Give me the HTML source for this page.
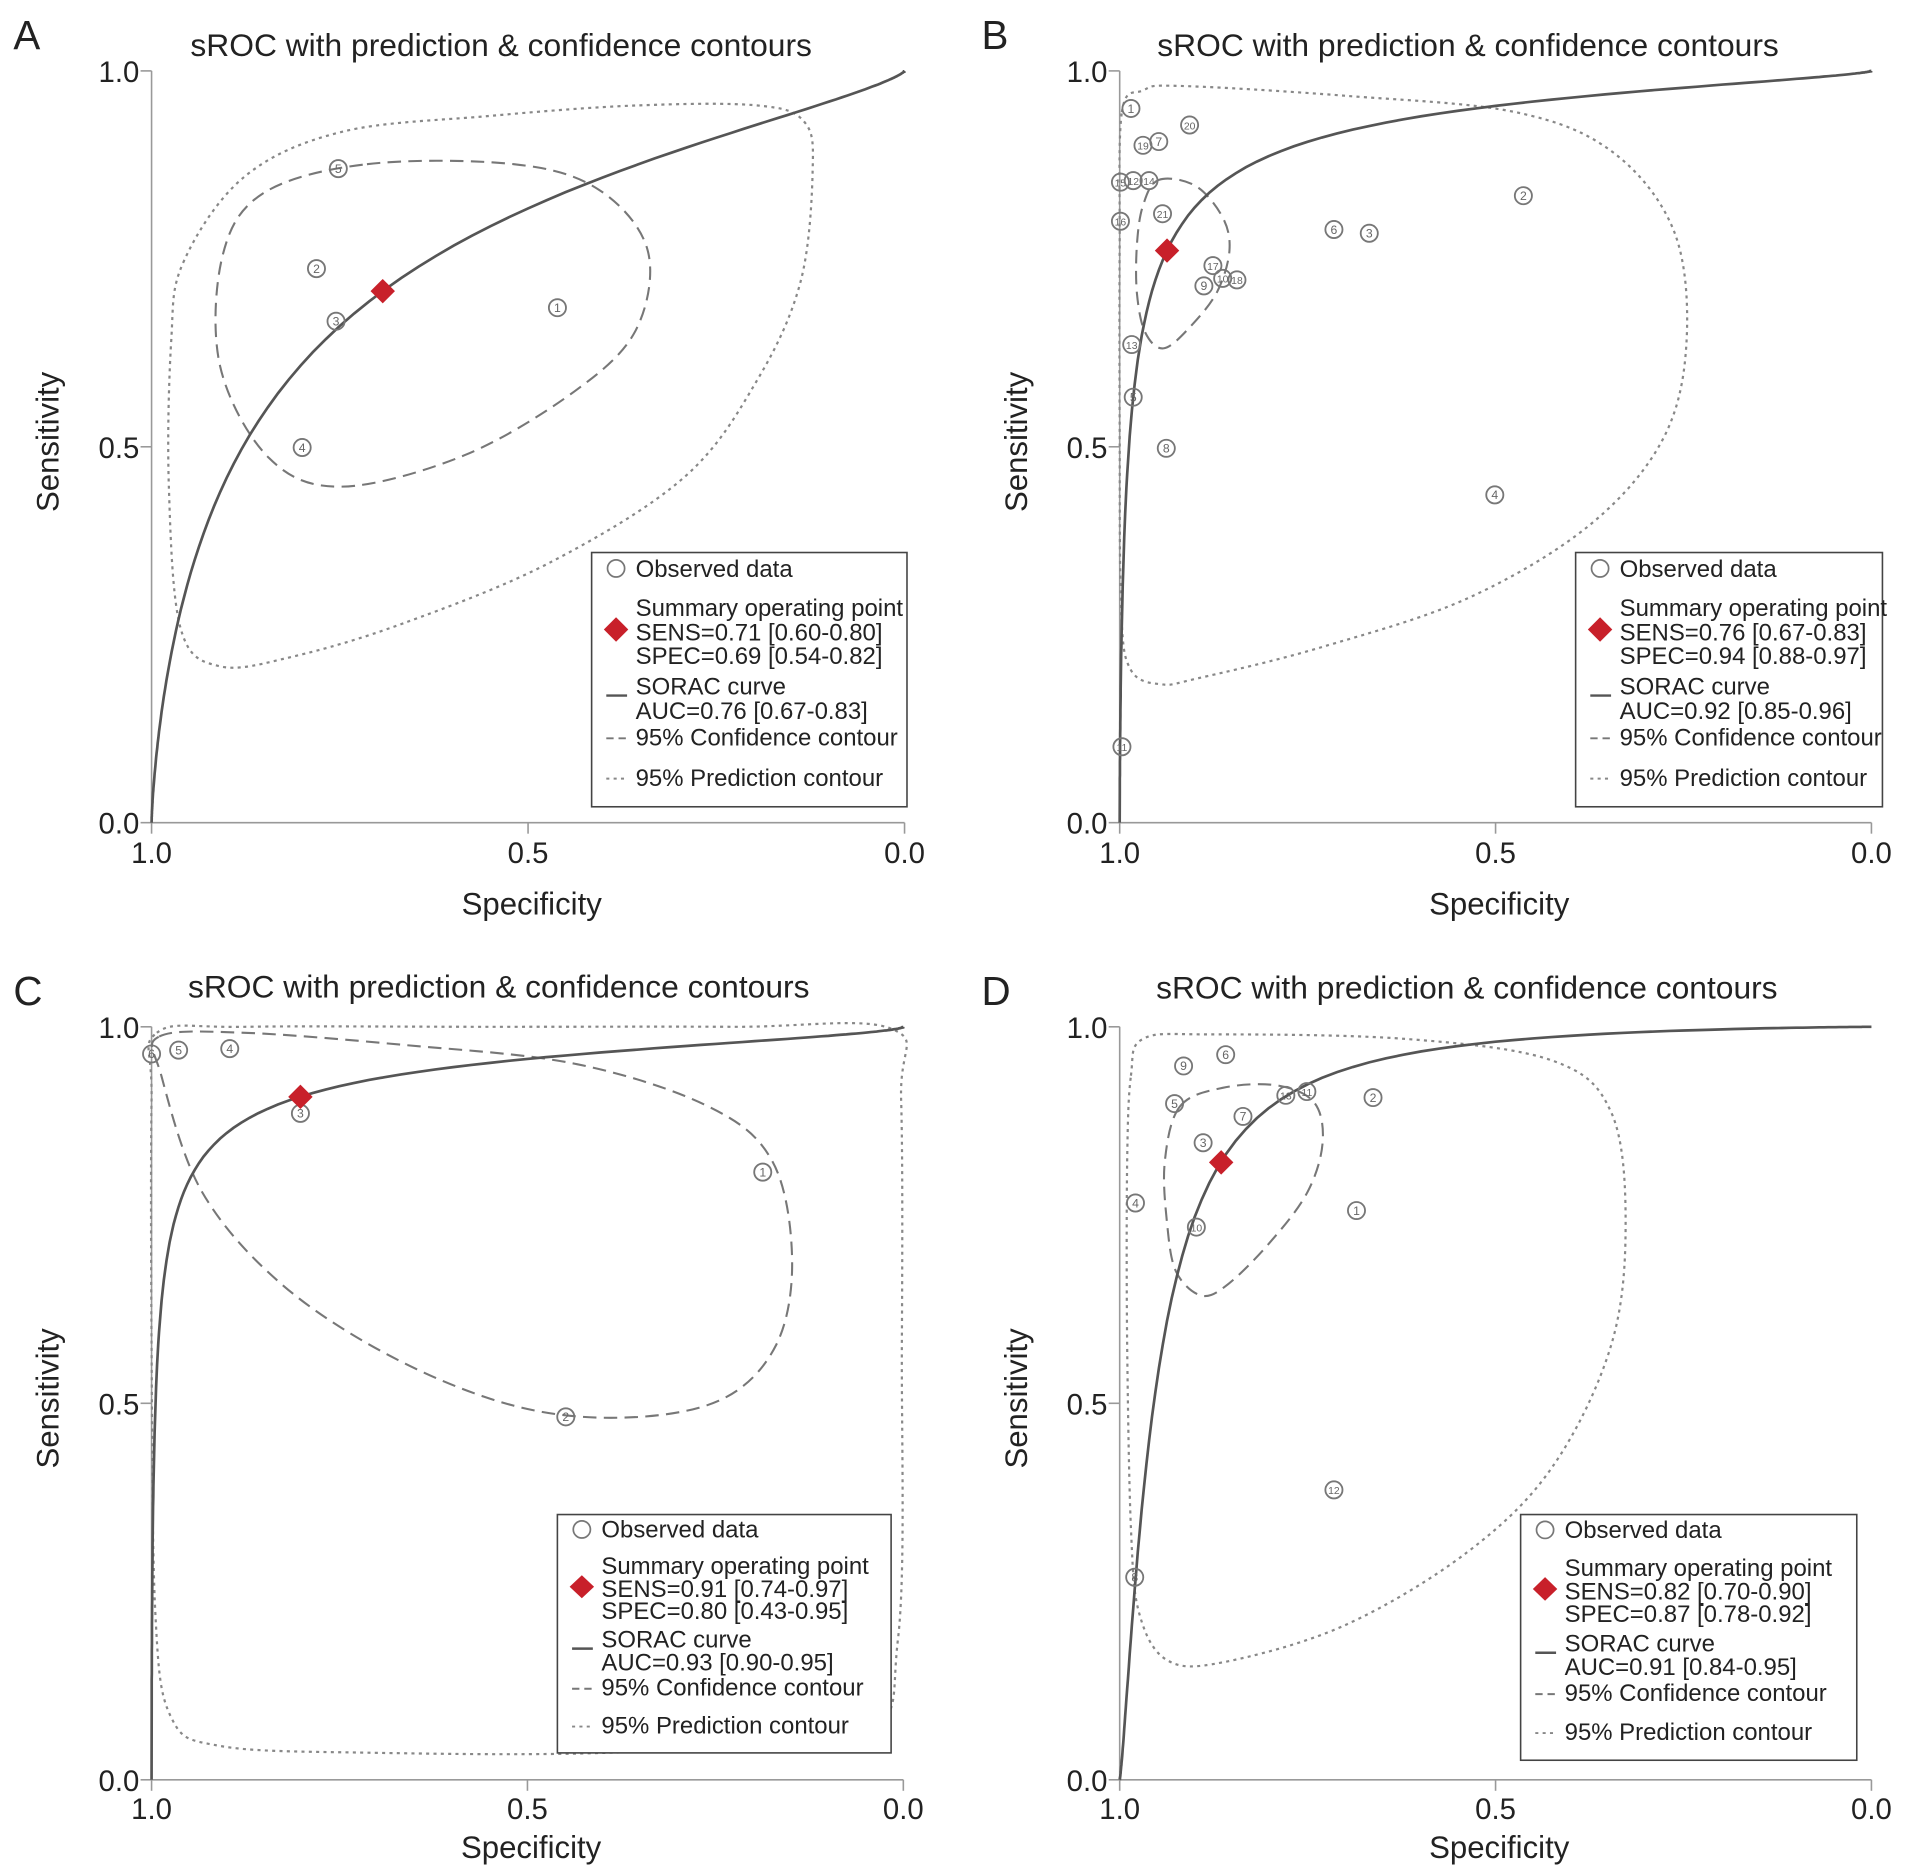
<!DOCTYPE html>
<html><head><meta charset="utf-8">
<style>
html,body{margin:0;padding:0;background:#fff;}
svg{display:block;}
text{font-family:"Liberation Sans",Arial,sans-serif;}
</style></head>
<body>
<svg id="chart" width="1913" height="1876" viewBox="0 0 1565 1534.7" preserveAspectRatio="none" xmlns="http://www.w3.org/2000/svg"></svg>
<script>
// ---- data (specificity, sensitivity) ----
const panelLabels = ["A","B","C","D"];
const ptsA_spec = [0.461,0.781,0.755,0.800,0.752];
const ptsA_sens = [0.685,0.737,0.667,0.499,0.870];
const ptsA_lab = ["1","2","3","4","5"];
const sumA = [0.693,0.707];
const curveA = [1.497,0.756];
const confA_spec = [.714,.519,.406,.341,.357,.438,.584,.747,.844,.909,.906,.852];
const confA_sens = [.876,.876,.842,.761,.655,.574,.489,.447,.485,.607,.753,.837];
const predA_spec = [.958,.877,.747,.552,.357,.195,.133,.122,.138,.195,.292,.471,.666,.812,.909,.961,.977,.974];
const predA_sens = [.745,.859,.919,.940,.954,.954,.932,.867,.720,.590,.460,.346,.265,.221,.208,.257,.444,.639];
const legA = ["SENS=0.71 [0.60-0.80]","SPEC=0.69 [0.54-0.82]","AUC=0.76 [0.67-0.83]"];

const ptsB_spec = [.985,.907,.969,.948,.999,.982,.961,.463,.999,.943,.715,.668,.876,.863,.844,.888,.984,.982,.938,.501,.997];
const ptsB_sens = [.950,.928,.901,.906,.852,.854,.854,.834,.800,.810,.789,.784,.741,.724,.722,.714,.636,.566,.498,.436,.101];
const ptsB_lab = ["1","20","19","7","15","12","14","2","16","21","6","3","17","10","18","9","13","5","8","4","11"];
const sumB = [0.937,0.761];
const curveB = [3.02,0.689];
const confB_spec = [.948,.899,.863,.854,.870,.904,.941,.966,.977,.977,.969];
const confB_sens = [.855,.847,.805,.761,.707,.662,.631,.652,.704,.769,.821];
const predB_spec = [.997,.969,.920,.701,.473,.343,.262,.246,.278,.376,.538,.733,.896,.945,.985,.998,1.0,1.0];
const predB_sens = [.945,.974,.980,.967,.945,.891,.785,.639,.509,.395,.298,.233,.192,.184,.203,.281,.525,.769];
const legB = ["SENS=0.76 [0.67-0.83]","SPEC=0.94 [0.88-0.97]","AUC=0.92 [0.85-0.96]"];

const ptsC_spec = [1.0,.964,.896,.802,.187,.449];
const ptsC_sens = [.964,.969,.971,.885,.807,.482];
const ptsC_lab = ["6","5","4","3","1","2"];
const sumC = [0.802,0.907];
const curveC = [3.11,0.593];
const confC_spec = [.990,.876,.665,.437,.259,.174,.148,.169,.242,.372,.519,.681,.828,.933,.987];
const confC_sens = [.987,.992,.976,.951,.894,.821,.692,.578,.505,.481,.497,.562,.659,.781,.935];
const predC_spec = [.993,.876,.551,.226,.015,.003,.002,.007,.063,.389,.714,.909,.974,.995,1.0,1.0];
const predC_sens = [.992,1.0,1.0,1.0,.997,.903,.578,.188,.058,.036,.036,.045,.083,.221,.578,.903];
const legC = ["SENS=0.91 [0.74-0.97]","SPEC=0.80 [0.43-0.95]","AUC=0.93 [0.90-0.95]"];

const ptsD_spec = [.859,.915,.927,.779,.751,.663,.836,.889,.979,.898,.685,.715,.980];
const ptsD_sens = [.963,.948,.898,.909,.914,.906,.881,.846,.766,.734,.756,.385,.269];
const ptsD_lab = ["6","9","5","13","11","2","7","3","4","10","1","12","8"];
const sumD = [0.865,0.820];
const curveD = [3.90,1.28];
const confD_spec = [.920,.863,.790,.741,.730,.750,.798,.855,.891,.925,.937,.940];
const confD_sens = [.894,.919,.922,.899,.846,.781,.716,.659,.643,.675,.740,.821];
const predD_spec = [.985,.969,.880,.620,.424,.346,.327,.346,.424,.538,.701,.863,.937,.974,.985,.990,.990];
const predD_sens = [.935,.984,.990,.984,.955,.886,.740,.578,.416,.302,.205,.156,.159,.221,.334,.578,.821];
const legD = ["SENS=0.82 [0.70-0.90]","SPEC=0.87 [0.78-0.92]","AUC=0.91 [0.84-0.95]"];

const tickVals = [0.0,0.5,1.0];
const tickLabels = ["0.0","0.5","1.0"];

const NS="http://www.w3.org/2000/svg";
const svg=document.getElementById('chart');
function mk(tag,attrs,parent){const e=document.createElementNS(NS,tag);for(const k in attrs)e.setAttribute(k,attrs[k]);(parent||svg).appendChild(e);return e;}
function smooth(P){let d="";const n=P.length;
 for(let i=0;i<n;i++){const p0=P[(i-1+n)%n],p1=P[i],p2=P[(i+1)%n],p3=P[(i+2)%n];
  if(i===0)d+="M"+p1[0].toFixed(1)+","+p1[1].toFixed(1);
  const c1=[p1[0]+(p2[0]-p0[0])/6,p1[1]+(p2[1]-p0[1])/6],c2=[p2[0]-(p3[0]-p1[0])/6,p2[1]-(p3[1]-p1[1])/6];
  d+="C"+c1[0].toFixed(1)+","+c1[1].toFixed(1)+" "+c2[0].toFixed(1)+","+c2[1].toFixed(1)+" "+p2[0].toFixed(1)+","+p2[1].toFixed(1);}
 return d+"Z";}

const panels=[
 {L:"A",x0:124,x1:740,y0:673,y1:58,tx:410,ty:46,ps:ptsA_spec,pn:ptsA_sens,pl:ptsA_lab,sum:sumA,cur:curveA,cs:confA_spec,cn:confA_sens,qs:predA_spec,qn:predA_sens,leg:legA,lx:484,ly:452,lw:258,lh:208,xtb:706,xab:748},
 {L:"B",x0:916,x1:1531,y0:673,y1:58,tx:1201,ty:46,ps:ptsB_spec,pn:ptsB_sens,pl:ptsB_lab,sum:sumB,cur:curveB,cs:confB_spec,cn:confB_sens,qs:predB_spec,qn:predB_sens,leg:legB,lx:1289,ly:452,lw:251,lh:208,xtb:706,xab:748},
 {L:"C",x0:124,x1:739,y0:1456,y1:840,tx:408,ty:816,ps:ptsC_spec,pn:ptsC_sens,pl:ptsC_lab,sum:sumC,cur:curveC,cs:confC_spec,cn:confC_sens,qs:predC_spec,qn:predC_sens,leg:legC,lx:456,ly:1239,lw:273,lh:195,xtb:1488,xab:1520},
 {L:"D",x0:916,x1:1531,y0:1456,y1:840,tx:1200,ty:817,ps:ptsD_spec,pn:ptsD_sens,pl:ptsD_lab,sum:sumD,cur:curveD,cs:confD_spec,cn:confD_sens,qs:predD_spec,qn:predD_sens,leg:legD,lx:1244,ly:1239,lw:275,lh:201,xtb:1488,xab:1520}
];

panels.forEach(p=>{
 const g=mk('g',{});
 
 
 const X=s=>p.x0+(1-s)*(p.x1-p.x0);
 const Y=v=>p.y0+v*(p.y1-p.y0);
 let t=mk('text',{x:p.x0-113,y:p.y1-18,'font-size':33,fill:'#222'},g);t.textContent=p.L;
 
 t=mk('text',{x:p.tx,y:p.ty,'font-size':26,fill:'#222','text-anchor':'middle'},g);t.textContent="sROC with prediction & confidence contours";
 
 let a=mk('line',{x1:p.x0,y1:p.y1,x2:p.x0,y2:p.y0,stroke:'#999','stroke-width':1.3},g);
 
 a=mk('line',{x1:p.x0,y1:p.y0,x2:p.x1,y2:p.y0,stroke:'#999','stroke-width':1.3},g);
 
 tickVals.forEach((v,i)=>{
  mk('line',{x1:p.x0-9,y1:Y(v),x2:p.x0,y2:Y(v),stroke:'#999','stroke-width':1.3},g);
  let tl=mk('text',{x:p.x0-10,y:Y(v)+9,'font-size':24,fill:'#222','text-anchor':'end'},g);tl.textContent=tickLabels[i];
  
  mk('line',{x1:X(v),y1:p.y0,x2:X(v),y2:p.y0+9,stroke:'#999','stroke-width':1.3},g);
  tl=mk('text',{x:X(v),y:p.xtb,'font-size':24,fill:'#222','text-anchor':'middle'},g);tl.textContent=tickLabels[i];
  
 });
 t=mk('text',{x:(p.x0+p.x1)/2+3,y:p.xab,'font-size':25.5,fill:'#222','text-anchor':'middle'},g);t.textContent="Specificity";
 
 const cy=(p.y0+p.y1)/2-4;
 t=mk('text',{x:p.x0-76,y:cy,'font-size':25.5,fill:'#222','text-anchor':'middle',transform:'rotate(-90 '+(p.x0-76)+' '+cy+')'},g);t.textContent="Sensitivity";
 
 let pc=mk('path',{d:smooth(p.qs.map((s,i)=>[X(s),Y(p.qn[i])])),fill:'none',stroke:'#888','stroke-width':1.8,'stroke-dasharray':'2.5 3.5'},g);
 
 let cc=mk('path',{d:smooth(p.cs.map((s,i)=>[X(s),Y(p.cn[i])])),fill:'none',stroke:'#777','stroke-width':1.7,'stroke-dasharray':'11 6'},g);
 
 let pts=[[X(1),Y(0)]];
 for(let k=-90;k<=90;k++){const lf=k/10;const fpr=1/(1+Math.exp(-lf));const ls=p.cur[0]+p.cur[1]*lf;const se=1/(1+Math.exp(-ls));pts.push([X(1-fpr),Y(se)]);}
 pts.push([X(0),Y(1)]);
 let sc=mk('path',{d:"M"+pts.map(q=>q[0].toFixed(1)+","+q[1].toFixed(1)).join("L"),fill:'none',stroke:'#555','stroke-width':2.2},g);
 
 p.ps.forEach((s,i)=>{
  const px=X(s),py=Y(p.pn[i]);
  const c=mk('circle',{cx:px,cy:py,r:7,fill:'none',stroke:'#777','stroke-width':1.5},g);
  
  
  const tt=mk('text',{x:px,y:py+3.5,'font-size':p.pl[i].length>1?8.5:10,fill:'#666','text-anchor':'middle'},g);tt.textContent=p.pl[i];
  
  
 });
 const sx=X(p.sum[0]),sy=Y(p.sum[1]);
 const dm=mk('polygon',{points:`${sx},${sy-10} ${sx+10},${sy} ${sx},${sy+10} ${sx-10},${sy}`,fill:'#c8202a'},g);
 
 const lg=mk('g',{},g);
 
 mk('rect',{x:p.lx,y:p.ly,width:p.lw,height:p.lh,fill:'#fff',stroke:'#444','stroke-width':1.3},lg);
 const tx=p.lx+36,ly=p.ly;
 const f=p.lh/208;
 const lines=[[20,"Observed data"],[52,"Summary operating point"],[72,p.leg[0]],[91,p.leg[1]],[116,"SORAC curve"],[136,p.leg[2]],[158,"95% Confidence contour"],[191,"95% Prediction contour"]];
 lines.forEach(l=>{const e=mk('text',{x:tx,y:ly+l[0]*f,'font-size':19.6,fill:'#222'},lg);e.textContent=l[1];
  });
 mk('circle',{cx:p.lx+20,cy:ly+13*f,r:7,fill:'none',stroke:'#777','stroke-width':1.4},lg);
 mk('polygon',{points:`${p.lx+20},${ly+53*f} ${p.lx+30},${ly+63*f} ${p.lx+20},${ly+73*f} ${p.lx+10},${ly+63*f}`,fill:'#c8202a'},lg);
 mk('line',{x1:p.lx+12,y1:ly+117*f,x2:p.lx+29,y2:ly+117*f,stroke:'#555','stroke-width':2},lg);
 mk('line',{x1:p.lx+12,y1:ly+152*f,x2:p.lx+29,y2:ly+152*f,stroke:'#777','stroke-width':1.6,'stroke-dasharray':'6 4'},lg);
 mk('line',{x1:p.lx+12,y1:ly+185*f,x2:p.lx+30,y2:ly+185*f,stroke:'#888','stroke-width':1.6,'stroke-dasharray':'2.5 3.5'},lg);
});
</script>
</body></html>
